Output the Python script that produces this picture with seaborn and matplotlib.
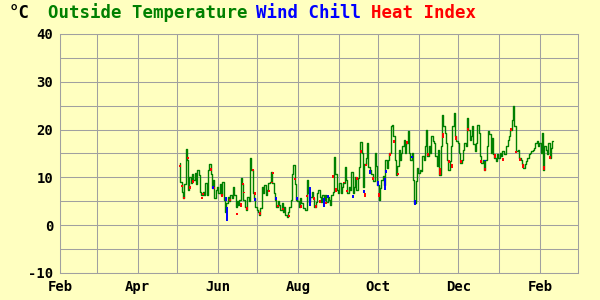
import matplotlib
matplotlib.use("Agg")
import matplotlib.pyplot as plt
import seaborn as sns
import pandas as pd

# ---- data ----
seg_starts = ["2023-05-03", "2023-06-16", "2023-08-06", "2023-09-28", "2023-11-17", "2024-01-07"]

temp_may_jun = [13, 9, 7, 5.6, 8.7, 16, 13.6, 7.4, 10, 8.8, 10.8, 9.4, 11, 8.7, 11.5, 10.5,
                7, 6.3, 7, 6.3, 8.8, 6.3, 11.5, 12.9, 10.8, 7.7, 9.4, 5.6, 7.4, 8, 6.7, 8.7,
                6.3, 9.1, 5.3, 2.8, 4.6, 6, 5, 6.3, 5.6, 8, 6.3, 3.9]
temp_jun_aug = [5, 4.2, 5.3, 9.8, 8.7, 5.3, 3.9, 3.2, 6, 5, 14, 11.5, 6.7, 5.6, 3.9, 3.2,
                2.8, 2.2, 3.5, 8, 6.7, 8.4, 6.3, 7.4, 8.8, 9.1, 11.2, 8.8, 6.7, 5.3, 3.9, 5,
                4.2, 3.2, 4.6, 2.8, 3.9, 2.2, 1.8, 2.8, 3.9, 5.3, 10.8, 12.6, 8.7, 5.3, 5, 3.9,
                5.6, 4.6]
temp_aug_sep = [3.5, 3.2, 9.4, 6.7, 4.9, 6, 7, 5.6, 3.9, 4.9, 6.7, 7.4, 6, 4.9, 6.3, 5.3,
                6.3, 4.9, 6, 5.3, 4.2, 6.3, 7, 14.3, 10.8, 7.4, 6.7, 8.8, 6.7, 8, 8.8, 12.2,
                9.4, 6.7, 8, 7.4, 11.2, 6.7, 8, 10.1, 7.4, 9.8, 12.2, 17.5, 15, 8, 12.9, 14,
                17.1, 12.2, 11.5, 10.8]
temp_sep_nov = [9.2, 15.1, 12.3, 8.5, 5.3, 7.8, 9.5, 10.2, 8.5, 13.7, 12, 13.7, 15.1, 20.7,
                21, 18.6, 13.7, 10.6, 12.3, 15.8, 13.7, 15.1, 16.5, 17.9, 15.1, 17.2, 19.7,
                15.1, 13.7, 15.1, 9.5, 4.6, 9.2, 12, 10.9, 11.6, 11.3, 14.4, 13.7, 16.5, 20,
                14.4, 16.5, 15.1, 18.6, 17.6, 17.2, 14.4, 12.3, 15.8]
temp_nov_jan = [10.6, 16.5, 23.1, 20.7, 19.3, 17.2, 13.7, 11.6, 13.4, 16.5, 20.7, 23.5, 18.6,
                17.6, 17.2, 15.1, 13, 13.7, 15.8, 17.2, 16.5, 22.4, 20, 17.9, 18.6, 20.7, 16.9,
                15.5, 17.2, 21, 19.3, 14.4, 13, 13.7, 11.6, 13.7, 16.5, 19.7, 19, 15.1, 18.3,
                14.8, 14.1, 13.4, 14.8, 14.1, 15.1, 14.4, 15.5, 14.8]
temp_jan_feb = [16.5, 17.9, 18.6, 20, 22.1, 24.9, 20.7, 15.5, 15.5, 15.8, 14.1, 13.7, 12.7, 12,
                12.7, 13.4, 14.1, 14.8, 15.1, 15.5, 15.8, 16.2, 17.2, 17.6, 16.5, 17.2, 15.1,
                19.3, 11.6, 16.5, 15.8, 14.8, 17.2, 14.1, 16.2, 17.6]

heat_dates = ["2023-05-03", "2023-05-05", "2023-05-06", "2023-05-09", "2023-05-11", "2023-05-13",
              "2023-05-20", "2023-05-21", "2023-05-27", "2023-05-29", "2023-06-04", "2023-06-10",
              "2023-06-16", "2023-06-19", "2023-06-20", "2023-06-21", "2023-06-23", "2023-06-28",
              "2023-06-29", "2023-07-03", "2023-07-10", "2023-07-12", "2023-07-13", "2023-07-17",
              "2023-07-21", "2023-07-25", "2023-07-30", "2023-08-03", "2023-08-08", "2023-08-13",
              "2023-08-15", "2023-08-18", "2023-08-22", "2023-08-28", "2023-08-30", "2023-09-05",
              "2023-09-07", "2023-09-15", "2023-09-18", "2023-09-21", "2023-09-22", "2023-09-27",
              "2023-10-02", "2023-10-10", "2023-10-13", "2023-10-16", "2023-10-23", "2023-10-29",
              "2023-11-08", "2023-11-17", "2023-11-19", "2023-11-24", "2023-11-26", "2023-11-29",
              "2023-12-03", "2023-12-08", "2023-12-18", "2023-12-21", "2023-12-29", "2024-01-04",
              "2024-01-10", "2024-01-14", "2024-01-17", "2024-01-19", "2024-02-04", "2024-02-09"]
heat_lo = [12.1, 7.9, 5.4, 13.8, 7.5, 8.8, 5.4, 6.3, 11.4, 7.6, 6.0, 5.0, 2.2, 3.9, 8.4, 6.7,
           3.2, 11.3, 6.3, 2.2, 7.0, 8.8, 10.8, 3.9, 3.1, 1.7, 9.4, 3.5, 6.0, 5.3, 3.7, 4.7,
           4.4, 9.8, 7.0, 8.8, 7.0, 9.4, 15.0, 6.0, 12.4, 9.4, 5.9, 14.4, 17.2, 10.4, 16.9, 4.6,
           14.4, 10.6, 18.3, 13.0, 12.0, 17.9, 13.0, 19.7, 13.0, 11.3, 14.1, 13.4, 19.7, 15.1,
           13.4, 12.0, 11.6, 13.9]
heat_hi = [12.6, 8.4, 6.0, 14.3, 8.1, 9.4, 6.0, 6.8, 11.9, 8.0, 6.5, 5.4, 2.6, 4.6, 8.8, 7.0,
           3.9, 11.7, 7.0, 2.8, 7.4, 9.1, 11.2, 4.2, 3.5, 2.2, 9.8, 4.2, 6.3, 6.0, 4.2, 5.3,
           4.9, 10.5, 7.7, 9.1, 7.4, 10.1, 15.7, 6.7, 12.9, 10.1, 6.7, 15.1, 17.9, 10.9, 17.6, 5.3,
           15.1, 12.0, 19.3, 13.7, 12.7, 18.6, 13.7, 20.3, 13.7, 12.0, 14.8, 14.1, 20.3, 15.5,
           14.1, 12.7, 12.3, 14.4]

chill_dates = ["2023-05-28", "2023-06-07", "2023-06-08", "2023-06-29", "2023-07-15", "2023-07-31",
               "2023-08-10", "2023-08-21", "2023-08-24", "2023-09-12", "2023-09-20", "2023-09-25",
               "2023-10-01", "2023-10-06", "2023-10-07", "2023-10-27", "2023-10-29", "2023-12-21"]
chill_lo = [7.6, 5.0, 0.8, 5.1, 5.3, 5.3, 4.1, 3.9, 5.6, 5.6, 6.7, 10.8, 8.1, 7.4, 10.9, 14.0, 4.3, 13.4]
chill_hi = [8.1, 6.0, 3.9, 5.6, 5.8, 5.8, 8.0, 5.6, 6.3, 6.3, 7.4, 11.5, 9.2, 9.9, 11.6, 14.4, 5.3, 13.7]

month_labels = ["Feb", "", "Apr", "", "Jun", "", "Aug", "", "Oct", "", "Dec", "", "Feb"]
y_ticks = [-10, -5, 0, 5, 10, 15, 20, 25, 30, 35, 40]
y_labels = ["-10", "", "0", "", "10", "", "20", "", "30", "", "40"]

# ---- build table ----
segments = [temp_may_jun, temp_jun_aug, temp_aug_sep, temp_sep_nov, temp_nov_jan, temp_jan_feb]
frames = []
for start, vals in zip(seg_starts, segments):
    frames.append(pd.DataFrame({"date": pd.date_range(start, periods=len(vals), freq="D"),
                                "temp": vals}))
df = pd.concat(frames, ignore_index=True)

BG = "#FFFFC0"
GRID = "#A0A0A0"
sns.set_style("white")
plt.rcParams["font.family"] = ["DejaVu Sans Mono"]

fig = plt.figure(figsize=(6, 3), dpi=100, facecolor=BG)
ax = fig.add_axes([0.1, 0.09, 0.8633, 0.7967], facecolor=BG)

sns.lineplot(data=df, x="date", y="temp", ax=ax, color="#008000", linewidth=1.0,
             estimator=None, drawstyle="steps-mid", zorder=3)
ax.vlines(pd.to_datetime(heat_dates), heat_lo, heat_hi, color="#FF0000", linewidth=1.4, zorder=4)
ax.vlines(pd.to_datetime(chill_dates), chill_lo, chill_hi, color="#0000FF", linewidth=1.4, zorder=4)

ax.set_xlim(pd.Timestamp("2023-02-01"), pd.Timestamp("2024-03-01"))
ax.set_ylim(-10, 40)
ax.set_xticks(pd.date_range("2023-02-01", "2024-02-01", freq="MS"))
ax.set_xticklabels(month_labels)
ax.set_yticks(y_ticks)
ax.set_yticklabels(y_labels)
ax.set_xlabel("")
ax.set_ylabel("")
ax.grid(True, color=GRID, linewidth=0.75, zorder=0)
ax.set_axisbelow(True)
for s in ax.spines.values():
    s.set_color(GRID)
    s.set_linewidth(0.75)
ax.tick_params(axis="both", length=0, labelsize=10, labelcolor="black")
ax.tick_params(axis="x", pad=5)
ax.tick_params(axis="y", pad=5)
for lab in ax.get_xticklabels() + ax.get_yticklabels():
    lab.set_fontweight("bold")

ty = 1 - 18.5 / 300
fs = 12.5
fig.text(9 / 600, ty, "°C", color="black", fontsize=fs, fontweight="bold", va="baseline")
fig.text(48 / 600, ty, "Outside Temperature", color="#008000", fontsize=fs, fontweight="bold", va="baseline")
fig.text(256 / 600, ty, "Wind Chill", color="#0000FF", fontsize=fs, fontweight="bold", va="baseline")
fig.text(370.5 / 600, ty, "Heat Index", color="#FF0000", fontsize=fs, fontweight="bold", va="baseline")

fig.savefig("out.png", dpi=100, facecolor=BG)
